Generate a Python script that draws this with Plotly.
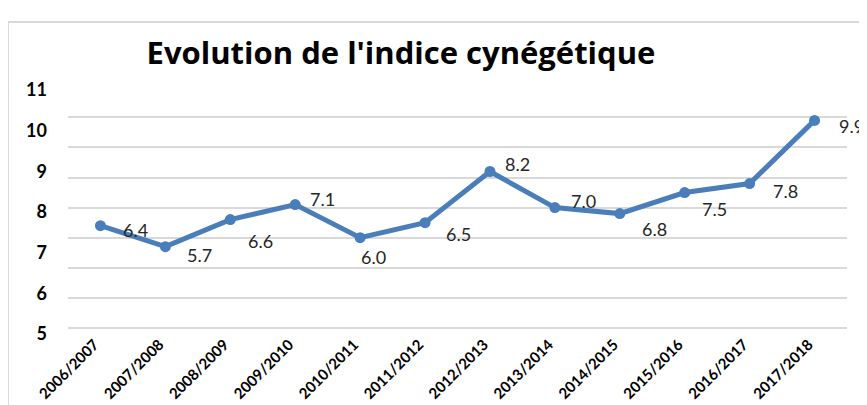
import plotly.graph_objects as go

seasons = ["2006/2007", "2007/2008", "2008/2009", "2009/2010", "2010/2011", "2011/2012",
           "2012/2013", "2013/2014", "2014/2015", "2015/2016", "2016/2017", "2017/2018"]
indice = [6.4, 5.7, 6.6, 7.1, 6.0, 6.5, 8.2, 7.0, 6.8, 7.5, 7.8, 9.9]
label_text = ["6.4", "5.7", "6.6", "7.1", "6.0", "6.5", "8.2", "7.0", "6.8", "7.5", "7.8", "9.9"]
# tick labels printed on the left axis of the original picture
axis_labels = [5, 6, 7, 8, 9, 10, 11]
grid_values = [3, 4, 5, 6, 7, 8, 9, 10, 11]

# pixel offsets of each data label's centre from its point (style only)
label_dx = [35, 34, 30, 27, 13, 33, 28, 29, 35, 30, 36, 37]
label_dy = [4, 8, 21, -6, 19, 11, -8, -7, 15, 16, 7, 6]

BLUE = "#4a7ebb"
GRID = "#d9d9d9"
FONT = "Lato, Open Sans, sans-serif"

# the page body adds an 8px margin, so the figure is 859x397
W, H = 859, 397
L, R, T, B = 60, 20, 79, 69
PW, PH = W - L - R, H - T - B

fig = go.Figure()
fig.add_trace(go.Scatter(
    x=seasons, y=indice, mode="lines+markers",
    line=dict(color=BLUE, width=5),
    marker=dict(color=BLUE, size=11),
    cliponaxis=False, showlegend=False, hoverinfo="x+y",
))
# invisible helper trace so the labelled left axis is drawn
fig.add_trace(go.Scatter(
    x=[seasons[0]], y=[axis_labels[0]], yaxis="y2", mode="markers",
    marker=dict(opacity=0), showlegend=False, hoverinfo="skip",
))

annotations = [
    dict(x=s, y=v, text=t, xref="x", yref="y", showarrow=False,
         xanchor="center", yanchor="middle", xshift=dx, yshift=-dy,
         font=dict(family=FONT, size=18, color="#262626"))
    for s, v, t, dx, dy in zip(seasons, indice, label_text, label_dx, label_dy)
]

fig.update_layout(
    width=W, height=H, autosize=False,
    margin=dict(l=L, r=R, t=T, b=B, autoexpand=False),
    paper_bgcolor="white", plot_bgcolor="white",
    title=dict(text="<b>Evolution de l'indice cynégétique</b>",
               font=dict(family="Open Sans, sans-serif", size=31, color="black"),
               x=393 / W, xanchor="center", y=1 - 45 / H, yanchor="middle",
               automargin=False),
    xaxis=dict(type="category", range=[-0.5, len(seasons) - 0.5], tickangle=-45,
               showgrid=False, showline=False,
               zeroline=False, ticks="", automargin=False, ticklabelstandoff=-4,
               ticklabelshift=-6,
               tickfont=dict(family=FONT, size=15, color="black", weight="bold")),
    yaxis=dict(range=[2.73, 11.01], tickvals=grid_values, showticklabels=False,
               showgrid=True, gridcolor=GRID, gridwidth=2, zeroline=False,
               showline=False, ticks="", automargin=False),
    yaxis2=dict(overlaying="y", side="left", range=[4.95, 11.074], tickvals=axis_labels,
                showgrid=False, zeroline=False, showline=False, ticks="",
                ticklabelstandoff=20, automargin=False,
                tickfont=dict(family=FONT, size=18, color="black", weight="bold")),
    annotations=annotations,
    shapes=[dict(type="rect", xref="paper", yref="paper",
                 x0=(0 - L) / PW, x1=1.2, y0=-0.6, y1=1 + (T - 14) / PH,
                 line=dict(color=GRID, width=2), fillcolor="rgba(0,0,0,0)", layer="below")],
)

fig.write_html("out.html")
